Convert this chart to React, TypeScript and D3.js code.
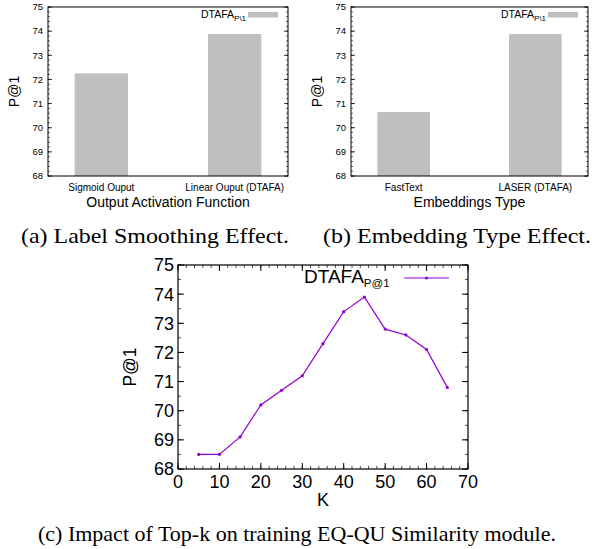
import React from "react";
import * as d3 from "d3";

const barCatsA = ["Sigmoid Ouput", "Linear Ouput (DTAFA)"];
const barValsA = [72.25, 73.88];
const barCatsB = ["FastText", "LASER (DTAFA)"];
const barValsB = [70.65, 73.88];
const barTicks = [68, 69, 70, 71, 72, 73, 74, 75];

const kVals = [5, 10, 15, 20, 25, 30, 35, 40, 45, 50, 55, 60, 65];
const p1Vals = [68.5, 68.5, 69.1, 70.2, 70.7, 71.2, 72.3, 73.4, 73.9, 72.8, 72.6, 72.1, 70.8];
const xTicksC = [0, 10, 20, 30, 40, 50, 60, 70];
const yTicksC = [68, 69, 70, 71, 72, 73, 74, 75];

const SANS = "'Liberation Sans', Arial, sans-serif";
const SERIF = "'Liberation Serif', 'Times New Roman', serif";

function BarPanel({ left, right, top, bottom, cats, vals, xTitle, caption, capX }: any) {
  const x = d3.scaleLinear().domain([-0.4, 1.4]).range([left, right]);
  const y = d3.scaleLinear().domain([68, 75]).range([bottom, top]);
  const bw = x(0.2) - x(-0.2);
  const minor = d3.range(68, 75.001, 0.2);
  return (
    <g>
      {vals.map((v: number, i: number) => (
        <rect key={i} x={x(i) - bw / 2} y={y(v)} width={bw} height={y(68) - y(v)} fill="#bfbfbf" />
      ))}
      {minor.map((t, i) => (
        <g key={"m" + i}>
          <line x1={left} x2={left + 2} y1={y(t)} y2={y(t)} stroke="#000" strokeWidth={0.6} />
          <line x1={right} x2={right - 2} y1={y(t)} y2={y(t)} stroke="#000" strokeWidth={0.6} />
        </g>
      ))}
      {barTicks.map((t) => (
        <g key={t}>
          <line x1={left} x2={left + 4} y1={y(t)} y2={y(t)} stroke="#000" strokeWidth={0.8} />
          <line x1={right} x2={right - 4} y1={y(t)} y2={y(t)} stroke="#000" strokeWidth={0.8} />
          <text x={left - 5} y={y(t)} dy="0.35em" textAnchor="end" fontSize={9.5} fontFamily={SANS}>{t}</text>
        </g>
      ))}
      <rect x={left} y={top} width={right - left} height={bottom - top} fill="none" stroke="#000" strokeWidth={1} />
      {cats.map((c: string, i: number) => (
        <text key={c} x={x(i)} y={bottom + 15} textAnchor="middle" fontSize={10} fontFamily={SANS}>{c}</text>
      ))}
      <text x={(left + right) / 2} y={bottom + 31} textAnchor="middle" fontSize={14} fontFamily={SANS}>{xTitle}</text>
      <text transform={`translate(${left - 29},${(top + bottom) / 2}) rotate(-90)`} textAnchor="middle" fontSize={14} fontFamily={SANS}>P@1</text>
      <text x={right - 87} y={top + 11} fontSize={10.5} fontFamily={SANS}>
        DTAFA<tspan fontSize={8} dy={3}>P\1</tspan>
      </text>
      <rect x={right - 40} y={top + 5} width={30} height={5.5} fill="#bfbfbf" />
      <text x={capX} y={243} fontSize={21.5} fontFamily={SERIF} textLength={268} lengthAdjust="spacingAndGlyphs">{caption}</text>
    </g>
  );
}

export default function App() {
  const left = 178, right = 468, top = 265, bottom = 469;
  const x = d3.scaleLinear().domain([0, 70]).range([left, right]);
  const y = d3.scaleLinear().domain([68, 75]).range([bottom, top]);
  const line = d3.line<number>().x((_, i) => x(kVals[i])).y((d) => y(d));
  const xMinor = d3.range(0, 70.001, 2);
  const yMinor = d3.range(68, 75.001, 0.5);
  const purple = "#9400d3";
  return (
    <svg width={592} height={549} style={{ position: "absolute", left: 0, top: 0, background: "#fff" }}>
      <rect width={592} height={549} fill="#fff" />
      <BarPanel left={48} right={288} top={7} bottom={176} cats={barCatsA} vals={barValsA}
        xTitle="Output Activation Function" caption="(a) Label Smoothing Effect." capX={21} />
      <BarPanel left={351} right={588} top={7} bottom={176} cats={barCatsB} vals={barValsB}
        xTitle="Embeddings Type" caption="(b) Embedding Type Effect." capX={323} />
      <g>
        {xMinor.map((t, i) => (
          <g key={"xm" + i}>
            <line x1={x(t)} x2={x(t)} y1={bottom} y2={bottom - 3} stroke="#000" strokeWidth={0.7} />
            <line x1={x(t)} x2={x(t)} y1={top} y2={top + 3} stroke="#000" strokeWidth={0.7} />
          </g>
        ))}
        {yMinor.map((t, i) => (
          <g key={"ym" + i}>
            <line x1={left} x2={left + 3} y1={y(t)} y2={y(t)} stroke="#000" strokeWidth={0.7} />
            <line x1={right} x2={right - 3} y1={y(t)} y2={y(t)} stroke="#000" strokeWidth={0.7} />
          </g>
        ))}
        {xTicksC.map((t) => (
          <g key={"x" + t}>
            <line x1={x(t)} x2={x(t)} y1={bottom} y2={bottom - 6} stroke="#000" />
            <line x1={x(t)} x2={x(t)} y1={top} y2={top + 6} stroke="#000" />
            <text x={x(t)} y={488} textAnchor="middle" fontSize={18} fontFamily={SANS}>{t}</text>
          </g>
        ))}
        {yTicksC.map((t) => (
          <g key={"y" + t}>
            <line x1={left} x2={left + 6} y1={y(t)} y2={y(t)} stroke="#000" />
            <line x1={right} x2={right - 6} y1={y(t)} y2={y(t)} stroke="#000" />
            <text x={left - 4} y={y(t)} dy="0.36em" textAnchor="end" fontSize={18} fontFamily={SANS}>{t}</text>
          </g>
        ))}
        <rect x={left} y={top} width={right - left} height={bottom - top} fill="none" stroke="#000" strokeWidth={1.2} />
        <path d={line(p1Vals) || ""} fill="none" stroke={purple} strokeWidth={1.2} />
        {p1Vals.map((v, i) => (
          <circle key={i} cx={x(kVals[i])} cy={y(v)} r={1.6} fill={purple} />
        ))}
        <text transform={`translate(${left - 42},${(top + bottom) / 2}) rotate(-90)`} textAnchor="middle" fontSize={17.5} fontFamily={SANS}>P@1</text>
        <text x={(left + right) / 2} y={506} textAnchor="middle" fontSize={18} fontFamily={SANS}>K</text>
        <text x={304} y={283} fontSize={19} fontFamily={SANS}>
          DTAFA<tspan fontSize={11.5} dy={4}>P@1</tspan>
        </text>
        <line x1={404} x2={449} y1={278} y2={278} stroke={purple} strokeWidth={1.2} />
        <circle cx={426.5} cy={278} r={1.6} fill={purple} />
        <text x={297} y={541} textAnchor="middle" fontSize={21} fontFamily={SERIF} textLength={518} lengthAdjust="spacingAndGlyphs">(c) Impact of Top-k on training EQ-QU Similarity module.</text>
      </g>
    </svg>
  );
}
